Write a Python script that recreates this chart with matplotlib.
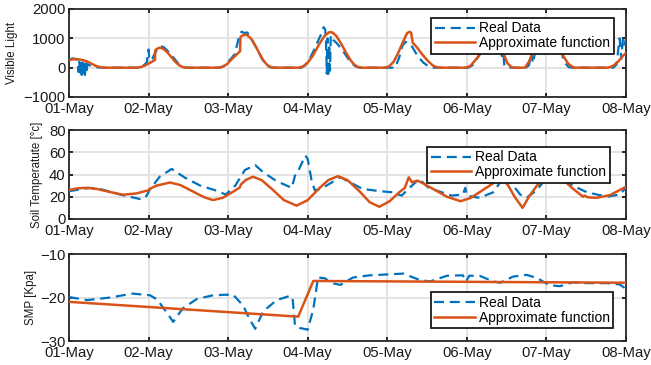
import matplotlib
matplotlib.use("Agg")
import matplotlib.pyplot as plt

plt.rcParams['font.family'] = ['Liberation Sans', 'DejaVu Sans']

# ---- data (time in days from 01-May) ----
day_labels = ["01-May", "02-May", "03-May", "04-May", "05-May", "06-May", "07-May", "08-May"]

# Visible light: measured
light_t = [0.00, 0.04, 0.08, 0.11, 0.12, 0.13, 0.14, 0.15, 0.16, 0.17, 0.18, 0.19, 0.20, 0.21, 0.22, 0.23,
           0.26, 0.30, 0.36, 0.42, 0.86, 0.92, 0.96, 0.98, 0.99, 1.00, 1.01, 1.05, 1.08, 1.12, 1.15, 1.19,
           1.23, 1.27, 1.32, 1.37, 1.42, 1.47, 1.90, 1.95, 2.00, 2.04, 2.08, 2.11, 2.14, 2.17, 2.20, 2.24,
           2.28, 2.32, 2.37, 2.42, 2.47, 2.52, 2.56, 2.92, 2.97, 3.02, 3.07, 3.12, 3.17, 3.20, 3.22, 3.23,
           3.24, 3.25, 3.26, 3.27, 3.28, 3.29, 3.32, 3.37, 3.43, 3.49, 3.55, 3.61, 3.66, 4.10, 4.15, 4.19,
           4.23, 4.28, 4.32, 4.38, 4.45, 4.52, 4.58, 5.02, 5.08, 5.15, 5.22, 5.30, 5.38, 5.43, 5.44, 5.45,
           5.47, 5.50, 5.74, 5.78, 5.81, 5.83, 5.86, 5.92, 6.00, 6.08, 6.15, 6.18, 6.22, 6.28, 6.32, 6.84,
           6.88, 6.92, 6.94, 6.96, 6.98, 7.00]
light_real = [230, 320, 300, 250, -150, 200, -250, 150, -250, 180, -230, 150, -250, 150, -200, 120,
              80, 40, 10, 0, 0, 40, 130, 200, 500, 620, 250, 320, 500, 650, 730, 700,
              600, 480, 320, 150, 40, 0, 0, 60, 200, 320, 450, 750, 1100, 1230, 1180, 1200,
              1050, 850, 600, 330, 120, 20, 0, 0, 80, 280, 550, 850, 1150, 1380, 1300, 900,
              -200, 1000, -300, 800, -100, 1100, 950, 820, 620, 380, 150, 30, 0, 0, 350, 750,
              880, 830, 680, 400, 180, 40, 0, 0, 100, 400, 750, 1000, 1050, 900, 400, 850,
              100, 0, 0, 80, 500, 150, 550, 850, 1050, 1000, 900, 650, 200, 20, 0, 0,
              100, 1000, 300, 950, 750, 1000]

# Visible light: fitted function
light_fit_t = [0.00, 0.05, 0.10, 0.16, 0.22, 0.28, 0.33, 0.38, 0.43, 0.47, 0.85, 0.90, 0.96, 1.02, 1.08,
               1.085, 1.11, 1.14, 1.18, 1.23, 1.28, 1.33, 1.38, 1.43, 1.47, 1.88, 1.93, 1.99, 2.06, 2.15,
               2.155, 2.20, 2.24, 2.29, 2.34, 2.39, 2.44, 2.49, 2.54, 2.58, 2.88, 2.94, 3.00, 3.07, 3.14,
               3.21, 3.27, 3.31, 3.36, 3.42, 3.48, 3.54, 3.59, 3.64, 3.68, 3.97, 4.02, 4.08, 4.14, 4.20,
               4.25, 4.28, 4.30, 4.32, 4.37, 4.44, 4.51, 4.57, 4.62, 4.66, 4.98, 5.04, 5.12, 5.19, 5.26,
               5.32, 5.38, 5.45, 5.51, 5.56, 5.59, 5.73, 5.78, 5.83, 5.92, 6.00, 6.08, 6.15, 6.20, 6.27,
               6.33, 6.36, 6.77, 6.83, 6.90, 6.96, 7.00]
light_fit = [260, 285, 290, 270, 220, 140, 70, 25, 5, 0, 0, 20, 80, 170, 260,
             600, 650, 680, 650, 540, 380, 220, 90, 20, 0, 0, 30, 130, 330, 560,
             1050, 1120, 1110, 980, 760, 500, 260, 90, 15, 0, 0, 40, 170, 430, 780,
             1080, 1210, 1200, 1080, 820, 520, 250, 90, 15, 0, 0, 40, 200, 520, 900,
             1180, 1220, 1190, 850, 700, 450, 230, 80, 15, 0, 0, 50, 300, 560, 900,
             1050, 950, 560, 150, 20, 0, 0, 200, 530, 950, 1100, 950, 700, 450, 150,
             20, 0, 0, 50, 200, 400, 500]

# Soil temperature: measured
temp_t = [0.00, 0.26, 0.39, 0.64, 0.89, 0.96, 1.02, 1.14, 1.29, 1.46, 1.65, 1.83, 1.97, 2.09, 2.21, 2.34,
          2.44, 2.61, 2.80, 2.84, 2.88, 2.97, 3.00, 3.05, 3.09, 3.19, 3.41, 3.53, 3.69, 3.91, 4.07, 4.18,
          4.25, 4.37, 4.40, 4.52, 4.81, 4.95, 4.98, 5.00, 5.16, 5.33, 5.44, 5.48, 5.54, 5.67, 5.75, 5.88,
          6.01, 6.17, 6.33, 6.51, 6.76, 6.92, 7.00]
temp_real = [25, 28, 27, 22, 18, 19, 27, 38, 45, 37, 30, 26, 22, 30, 44, 48.5,
             42, 34, 28, 39, 43, 57, 54, 34, 25.6, 28, 37.6, 33, 27, 25, 24, 21,
             26, 34, 36, 28, 21, 22, 28, 21, 19, 24, 35, 40, 34, 22, 19, 26,
             38, 38, 30, 24, 20, 22, 28]

# Soil temperature: fitted function
temp_fit_t = [0.00, 0.10, 0.22, 0.35, 0.50, 0.68, 0.85, 0.98, 1.00, 1.01, 1.10, 1.27, 1.40, 1.55, 1.70,
              1.81, 1.93, 2.05, 2.14, 2.15, 2.16, 2.22, 2.31, 2.42, 2.55, 2.70, 2.86, 3.00, 3.15, 3.26,
              3.38, 3.50, 3.65, 3.78, 3.90, 4.03, 4.15, 4.22, 4.27, 4.31, 4.38, 4.45, 4.60, 4.75, 4.92,
              5.05, 5.20, 5.35, 5.43, 5.52, 5.60, 5.66, 5.70, 5.78, 5.88, 6.00, 6.10, 6.20, 6.32, 6.46,
              6.48, 6.52, 6.63, 6.80, 7.00]
temp_fit = [26, 27.5, 28, 27, 24.5, 21.8, 23, 25.5, 25.5, 27, 30, 32.8, 30.5, 25, 19.5,
            17, 19, 24, 28, 29, 31, 35, 38, 35, 27, 17, 12, 17, 28, 35,
            38.5, 35, 25, 15, 11, 16, 24, 28, 37.5, 33, 34.5, 32, 26, 20, 16,
            19, 26, 33, 38, 30, 20, 14, 10, 20, 30, 37.5, 38.5, 36, 28, 20,
            21, 19.5, 19, 21.5, 29]

# Soil matric potential: measured
smp_t = [0.00, 0.23, 0.52, 0.80, 1.02, 1.11, 1.21, 1.31, 1.43, 1.61, 1.81, 2.06, 2.19, 2.27, 2.34, 2.44,
         2.61, 2.78, 2.81, 2.84, 2.90, 3.00, 3.07, 3.13, 3.22, 3.28, 3.41, 3.57, 3.78, 4.00, 4.20, 4.41,
         4.54, 4.75, 4.95, 4.99, 5.03, 5.16, 5.33, 5.42, 5.58, 5.75, 5.88, 6.04, 6.17, 6.33, 6.51, 6.76,
         6.92, 7.00]
smp_real = [-19.9, -20.6, -20.0, -19.1, -19.5, -20.5, -23.0, -25.6, -22.5, -20.3, -19.5, -19.3, -21.9, -25.0, -27.2, -23.2,
            -20.6, -19.6, -20.2, -26.4, -27.0, -27.4, -22.7, -15.4, -15.6, -16.6, -17.1, -15.4, -14.9, -14.7, -14.5, -16.0,
            -16.3, -15.0, -14.9, -16.3, -15.0, -15.0, -16.3, -16.6, -15.2, -14.8, -15.5, -17.2, -17.4, -16.5, -16.7, -16.7,
            -17.0, -18.0]

# Soil matric potential: fitted function
smp_fit_t = [0.00, 2.88, 3.07, 7.00]
smp_fit = [-21.0, -24.4, -16.2, -16.6]

# ---- styling ----
BLUE = '#0072BD'
ORANGE = '#D95319'
SPINE = '#262626'
GRID = '#e3e3e3'
TICK_FS = 10.7
LABEL_FS = 8.3
LEG_FS = 10

fig = plt.figure(figsize=(6.51, 3.65), dpi=100)
W, H = 651.0, 365.0
x0, x1 = 69, 626

panels = [
    # (top px, bottom px, ylim, yticks, ylabel, label x, legend settings)
    (9, 97, (-1000, 2000), [-1000, 0, 1000, 2000], 'Visible Light', -0.0916,
     dict(loc='upper right', bbox_to_anchor=(0.978, 0.898))),
    (130, 219, (0, 80), [0, 20, 40, 60, 80], 'Soil Temperatute [°c]', -0.0467,
     dict(loc='upper right', bbox_to_anchor=(0.971, 0.809))),
    (254, 341, (-30, -10), [-30, -20, -10], 'SMP [Kpa]', -0.0575,
     dict(loc='lower right', bbox_to_anchor=(0.977, 0.149))),
]
series = [
    (light_t, light_real, light_fit_t, light_fit),
    (temp_t, temp_real, temp_fit_t, temp_fit),
    (smp_t, smp_real, smp_fit_t, smp_fit),
]

for (top, bot, ylim, yticks, ylabel, lx, legkw), (rt, rv, ft, fv) in zip(panels, series):
    ax = fig.add_axes([x0 / W, 1 - bot / H, (x1 - x0) / W, (bot - top) / H])
    ax.plot(rt, rv, color=BLUE, lw=1.6, ls=(0, (4.5, 2.6)), label='Real Data', zorder=3)
    ax.plot(ft, fv, color=ORANGE, lw=1.8, label='Approximate function', zorder=4)
    ax.set_xlim(0, 7)
    ax.set_ylim(*ylim)
    ax.set_xticks(range(len(day_labels)))
    ax.set_xticklabels(day_labels)
    ax.set_yticks(yticks)
    ax.grid(True, color=GRID, lw=1.4, zorder=0)
    ax.set_axisbelow(True)
    ax.tick_params(direction='in', top=True, right=True, length=3.2, width=1.4,
                   color=SPINE, labelsize=TICK_FS, labelcolor='#1a1a1a')
    ax.tick_params(axis='x', pad=3.5)
    ax.tick_params(axis='y', pad=2.5)
    for s in ax.spines.values():
        s.set_color(SPINE)
        s.set_linewidth(1.3)
    ax.set_ylabel(ylabel, fontsize=LABEL_FS, color='#1a1a1a')
    ax.yaxis.set_label_coords(lx, 0.5)
    leg = ax.legend(fontsize=LEG_FS, frameon=True, fancybox=False, framealpha=1,
                    edgecolor='#1a1a1a', borderpad=0.25, labelspacing=0.05,
                    handlelength=2.9, handletextpad=0.3, borderaxespad=0, **legkw)
    leg.get_frame().set_linewidth(1.3)
    leg.set_zorder(10)

fig.savefig('out.png', dpi=100, facecolor='white')
